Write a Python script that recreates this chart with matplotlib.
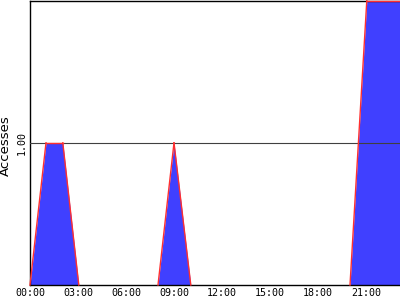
import matplotlib
matplotlib.use("Agg")
import matplotlib.pyplot as plt

# hours of the day and number of accesses
hours = [0.0, 1.0, 2.05, 3.05, 8.0, 9.0, 10.05, 20.0, 21.05, 23.2]
accesses = [0, 1, 1, 0, 0, 1, 0, 0, 2, 2]

tick_hours = [0, 3, 6, 9, 12, 15, 18, 21]
tick_labels = ["00:00", "03:00", "06:00", "09:00", "12:00", "15:00", "18:00", "21:00"]

fig = plt.figure(figsize=(4, 3), dpi=100)
ax = fig.add_axes([0.075, 0.05, 0.925, 0.948])

ax.fill_between(hours, accesses, 0, color="#4040ff", linewidth=0)

# red outline only where the area is above zero
for i in range(len(hours) - 1):
    if accesses[i] == 0 and accesses[i + 1] == 0:
        continue
    ax.plot(hours[i:i + 2], accesses[i:i + 2], color="#ff3030",
            linewidth=1, clip_on=False, zorder=4)

ax.axhline(1.0, color="#404040", linewidth=0.8, zorder=3)

ax.set_xlim(0, 23.125)
ax.set_ylim(0, 2.0)

ax.set_xticks(tick_hours)
ax.set_xticklabels(tick_labels, family="DejaVu Sans Mono", fontsize=7.2)
ax.set_yticks([1.0])
ax.set_yticklabels(["1.00"], family="DejaVu Sans Mono", fontsize=7.2,
                   rotation=90, va="center")
ax.tick_params(length=0, pad=2)

ax.set_ylabel("Accesses", fontsize=9.5)
ax.yaxis.set_label_coords(-0.048, 0.49)

for side in ["left", "bottom", "top"]:
    ax.spines[side].set_linewidth(1)
    ax.spines[side].set_color("black")
ax.spines["right"].set_visible(False)

fig.savefig("out.png", dpi=100)
